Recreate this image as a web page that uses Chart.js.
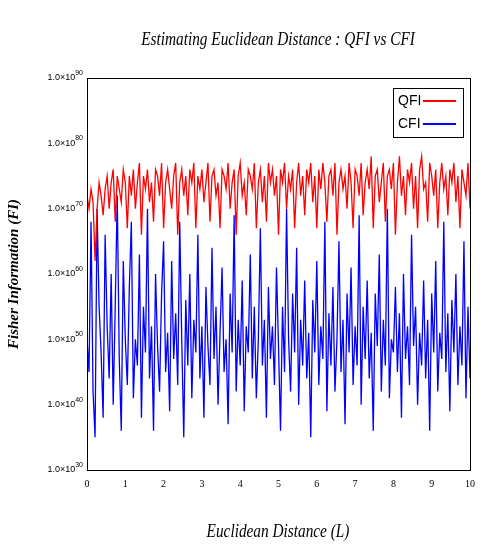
<!DOCTYPE html>
<html><head><meta charset="utf-8">
<script src="https://cdn.jsdelivr.net/npm/chart.js@4"></script>
<style>html,body{margin:0;background:#fff}#c{display:block}</style>
</head><body><canvas id="c" width="491" height="545"></canvas>
<script>
const qfiExp=[72,70,73,71,62,70,74,72,69,73,75,70,74,76,68,75,73,71,76,74,
67,75,72,76,70,74,77,66,75,73,76,71,74,68,76,75,72,77,67,74,
76,73,70,75,77,66,74,76,72,75,69,76,74,77,67,75,73,76,71,74,
77,68,75,76,72,74,67,76,75,73,77,70,74,76,66,75,77,72,74,69,
76,75,73,77,67,74,76,71,75,68,77,74,76,72,75,66,76,74,77,70,
75,73,76,67,74,77,72,75,69,76,74,77,71,75,67,76,73,77,74,68,
75,76,72,77,66,74,76,73,75,70,77,74,67,76,75,72,77,69,74,76,
73,78,67,75,76,71,74,77,68,75,76,73,77,66,74,78,72,75,69,76,
74,77,70,75,67,76,78,73,74,68,77,75,72,76,67,74,77,73,75,69,
76,74,77,71,75,67,76,74,72,77,70];
const cfiExp=[50,45,68,42,35,70,55,48,38,66,52,44,60,40,55,72,47,36,62,50,
43,58,68,41,50,46,63,38,55,48,70,44,52,36,60,49,42,57,65,45,
51,39,62,47,54,43,68,50,35,56,46,60,41,53,48,66,44,52,38,58,
49,43,64,47,55,40,51,61,45,50,37,57,48,69,42,53,46,59,39,52,
48,63,44,55,41,50,67,46,53,38,58,47,52,43,61,49,36,55,45,70,
50,42,57,48,64,40,53,46,59,44,51,35,56,48,62,43,52,47,68,39,
54,46,58,42,50,65,45,53,37,57,48,61,43,52,46,69,40,55,47,59,
44,51,36,57,49,63,42,53,46,70,41,50,48,58,45,54,38,60,47,52,
43,66,49,55,40,51,46,59,44,53,36,57,48,62,42,51,47,68,45,54,
39,56,48,60,43,52,46,65,41,55,44];
const xMin=0,xMax=10;
const yTicks=[30,40,50,60,70,80,90];
const toPts=a=>a.map((v,i)=>({x:xMin+i*(xMax-xMin)/(a.length-1),y:v}));
const deco={id:'deco',afterDraw(ch){const c=ch.ctx,a=ch.chartArea;c.save();
c.strokeStyle='#000';c.lineWidth=1;c.strokeRect(a.left+.5,a.top+.5,a.right-a.left,a.bottom-a.top);
c.fillStyle='#000';
// y tick labels
const ys=ch.scales.y;c.textBaseline='middle';
yTicks.forEach(v=>{const y=ys.getPixelForValue(v);c.font='9px "Liberation Sans Narrow","Liberation Sans"';c.textAlign='right';
c.font='7px "Liberation Sans Narrow","Liberation Sans"';const ew=c.measureText(String(v)).width;c.textAlign='left';c.fillText(String(v),a.left-4-ew,y-5);
c.font='9px "Liberation Sans Narrow","Liberation Sans"';c.textAlign='right';c.fillText('1.0×10',a.left-4-ew,y);});
c.textAlign='center';
c.font='italic 18px "Liberation Serif"';c.save();c.translate(278,40);c.scale(0.85,1);c.fillText('Estimating Euclidean Distance : QFI vs CFI',0,0);c.restore();
c.save();c.translate(278,532);c.scale(0.85,1);c.fillText('Euclidean Distance (L)',0,0);c.restore();
c.save();c.translate(14,274);c.rotate(-Math.PI/2);c.font='bold italic 15px "Liberation Serif"';c.fillText('Fisher Information (FI)',0,0);c.restore();
const lx=393,ly=88;c.fillStyle='#fff';c.fillRect(lx,ly,70,49);c.strokeRect(lx+.5,ly+.5,70,49);
c.font='14px "Liberation Sans Narrow","Liberation Sans"';c.textAlign='left';c.fillStyle='#000';
[['QFI','#ff0000',101],['CFI','#0000ff',124]].forEach(([t,col,y])=>{c.fillText(t,lx+5,y);c.strokeStyle=col;c.lineWidth=2;c.beginPath();c.moveTo(lx+30,y);c.lineTo(lx+63,y);c.stroke();});
c.restore();}};
new Chart(document.getElementById('c'),{type:'line',
data:{datasets:[
{label:'QFI',data:toPts(qfiExp),borderColor:'#ff0000',borderWidth:1.3,pointRadius:0,tension:0},
{label:'CFI',data:toPts(cfiExp),borderColor:'#0000ff',borderWidth:1.3,pointRadius:0,tension:0}]},
options:{responsive:false,animation:false,layout:{padding:{top:78,right:21}},
plugins:{legend:{display:false},tooltip:{enabled:false}},
scales:{
x:{type:'linear',min:0,max:10,grid:{display:false,drawTicks:false},border:{display:false},
ticks:{stepSize:1,color:'#000',font:{size:10,family:'Liberation Sans Narrow'},padding:8},afterFit(s){s.height=75;}},
y:{min:30,max:90,grid:{display:false,drawTicks:false},border:{display:false},
afterBuildTicks(s){s.ticks=yTicks.map(v=>({value:v}));},
ticks:{callback:()=>''},afterFit(s){s.width=87;}}}},
plugins:[deco]});
</script></body></html>
